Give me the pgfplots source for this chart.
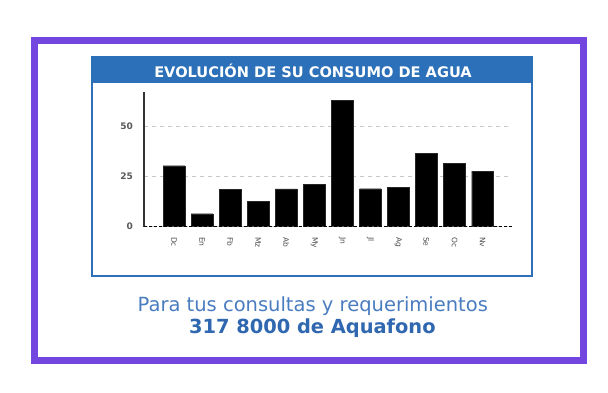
\documentclass[border=0pt]{standalone}
\usepackage{pgfplots}
\pgfplotsset{compat=1.18}
\usepackage{fontspec}
\setmainfont{DejaVu Sans}
\definecolor{frame}{HTML}{7446E0}
\definecolor{boxblue}{HTML}{2B70B8}
\definecolor{txtblue}{HTML}{4A7CC0}
\definecolor{txtblue2}{HTML}{2F67B0}
\definecolor{gridgray}{HTML}{C8C8C8}
\pgfplotstableread{
idx val
0 30.5
1 6.5
2 18.8
3 12.8
4 18.9
5 21.2
6 63.3
7 19.0
8 19.7
9 36.7
10 31.7
11 27.8
}\consumo
\begin{document}
\begin{tikzpicture}[x=1bp,y=1bp]
\fill[white] (0,0) rectangle (608,392);
\draw[frame, line width=7bp] (34.2,351.2) rectangle (583.7,32);
\draw[boxblue, line width=2bp] (92,335) rectangle (532,116);
\fill[boxblue] (91,334) rectangle (533,309);
\node[text=white, font=\bfseries\fontsize{14.6bp}{16bp}\selectfont, anchor=base] at (313,314.5) {EVOLUCIÓN DE SU CONSUMO DE AGUA};
\begin{axis}[
  at={(144.3bp,165.3bp)}, anchor=south west,
  scale only axis, width=367.7bp, height=135bp,
  xmin=-1.06, xmax=12.05, ymin=0, ymax=67.5,
  axis x line=bottom, axis y line=left,
  x axis line style={draw=none},
  y axis line style={-, black!80, line width=1.8bp},
  xtick={0,...,11},
  xticklabels={Dc,En,Fb,Mz,Ab,My,Jn,Jl,Ag,Se,Oc,Nv},
  ytick={0,25,50},
  major tick length=0pt,
  ymajorgrids,
  grid style={gridgray, line width=1.5bp, dash pattern=on 4bp off 4bp},
  /pgf/number format/assume math mode=true,
  yticklabel style={font=\bfseries\fontsize{9bp}{10bp}\selectfont, text=black!65},
  yticklabel shift=8bp,
  xticklabel style={font=\fontsize{7.5bp}{8bp}\selectfont, text=black!70, rotate=-90, anchor=west},
  xticklabel shift=7bp,
]
\addplot[ybar, bar width=21.7bp, fill=black, draw=black!85] table[x=idx,y=val] {\consumo};
\draw[black, line width=2bp, dash pattern=on 3bp off 2bp] (axis cs:-1.06,0) -- (axis cs:12.05,0);
\end{axis}
\node[text=txtblue, font=\fontsize{19.5bp}{22bp}\selectfont, anchor=base] at (312.8,80.5) {Para tus consultas y requerimientos};
\node[text=txtblue2, font=\bfseries\fontsize{19.4bp}{22bp}\selectfont, anchor=base] at (312.3,58.5) {317 8000 de Aquafono};
\end{tikzpicture}
\end{document}
